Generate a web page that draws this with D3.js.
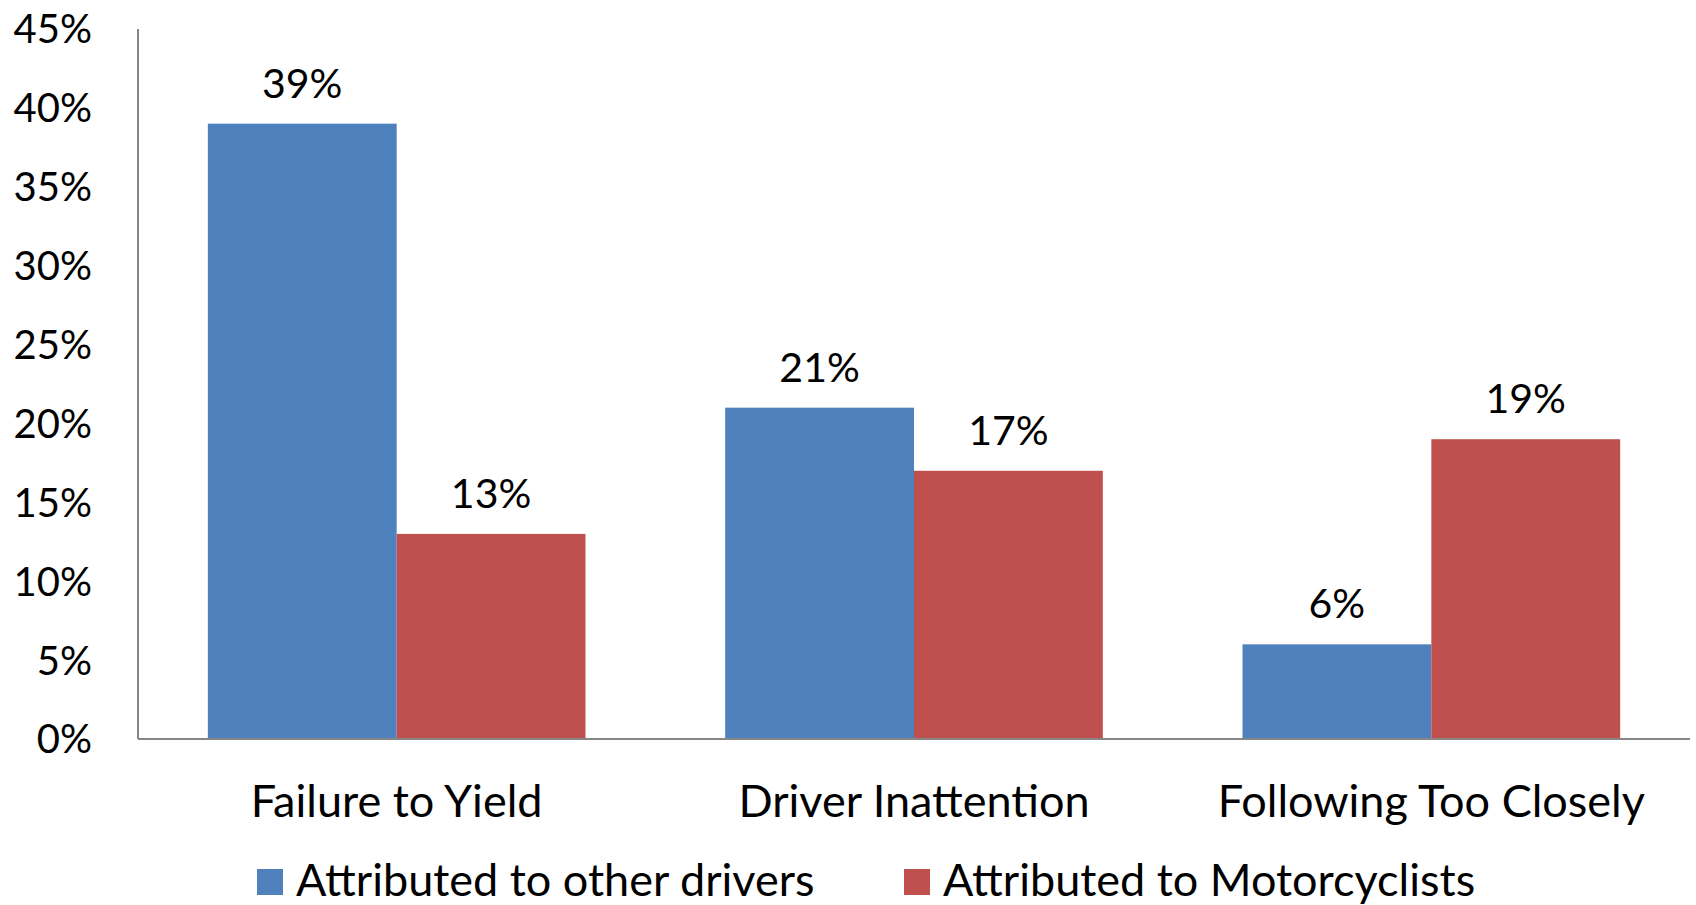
<!DOCTYPE html>
<html>
<head>
<meta charset="utf-8">
<script src="https://cdn.jsdelivr.net/npm/d3@7"></script>
<style>
  body { margin: 0; background: #fff; }
  text { font-family: Lato, "Open Sans", sans-serif; fill: #000; }
</style>
</head>
<body>
<div id="chart"></div>
<script>
var categories = ["Failure to Yield", "Driver Inattention", "Following Too Closely"];
var seriesNames = ["Attributed to other drivers", "Attributed to Motorcyclists"];
var otherDrivers = [39, 21, 6];
var motorcyclists = [13, 17, 19];
var yTicks = [0, 5, 10, 15, 20, 25, 30, 35, 40, 45];
var colors = ["#4F81BD", "#C0504D"];

var width = 1696, height = 905;
var margin = {top: 29, right: 6, bottom: 166, left: 138};

var svg = d3.select("#chart").append("svg")
    .attr("width", width)
    .attr("height", height);

var x = d3.scaleBand()
    .domain(categories)
    .range([margin.left, width - margin.right])
    .paddingInner(0.27)
    .paddingOuter(0.135);

var x1 = d3.scaleBand()
    .domain(seriesNames)
    .range([0, x.bandwidth()]);

var y = d3.scaleLinear()
    .domain([0, 45])
    .range([height - margin.bottom, margin.top]);

var rows = categories.map(function(c, i) {
  return {cat: c, vals: [otherDrivers[i], motorcyclists[i]]};
});

// y axis labels
svg.selectAll(".ytick")
    .data(yTicks)
    .enter()
    .append("text")
    .attr("x", 92)
    .attr("y", function(d) { return y(d); })
    .attr("dy", "0.36em")
    .attr("text-anchor", "end")
    .style("font-size", "40px")
    .text(function(d) { return d + "%"; });

// bars
var groups = svg.selectAll(".grp")
    .data(rows)
    .enter()
    .append("g")
    .attr("transform", function(d) { return "translate(" + x(d.cat) + ",0)"; });

groups.selectAll("rect")
    .data(function(d) { return d.vals.map(function(v, j) { return {s: seriesNames[j], v: v, j: j}; }); })
    .enter()
    .append("rect")
    .attr("x", function(d) { return x1(d.s); })
    .attr("y", function(d) { return y(d.v); })
    .attr("width", x1.bandwidth())
    .attr("height", function(d) { return y(0) - y(d.v); })
    .style("fill", function(d) { return colors[d.j]; });

groups.selectAll(".lbl")
    .data(function(d) { return d.vals.map(function(v, j) { return {s: seriesNames[j], v: v}; }); })
    .enter()
    .append("text")
    .attr("x", function(d) { return x1(d.s) + x1.bandwidth() / 2; })
    .attr("y", function(d) { return y(d.v) - 26; })
    .attr("text-anchor", "middle")
    .style("font-size", "41px")
    .text(function(d) { return d.v + "%"; });

// axis lines
svg.append("line")
    .attr("x1", margin.left).attr("x2", margin.left)
    .attr("y1", y(45)).attr("y2", y(0))
    .style("stroke", "#868686").style("stroke-width", 2);
svg.append("line")
    .attr("x1", margin.left).attr("x2", width - margin.right)
    .attr("y1", y(0)).attr("y2", y(0))
    .style("stroke", "#868686").style("stroke-width", 2);

// category labels
svg.selectAll(".cat")
    .data(categories)
    .enter()
    .append("text")
    .attr("x", function(d) { return x(d) + x.bandwidth() / 2; })
    .attr("y", 817)
    .attr("text-anchor", "middle")
    .style("font-size", "45px")
    .text(function(d) { return d; });

// legend
var legX = [257, 904];
var leg = svg.selectAll(".leg")
    .data(seriesNames)
    .enter()
    .append("g")
    .attr("transform", function(d, i) { return "translate(" + legX[i] + ",869)"; });
leg.append("rect")
    .attr("width", 26).attr("height", 26)
    .style("fill", function(d, i) { return colors[i]; });
leg.append("text")
    .attr("x", 39)
    .attr("y", 27)
    .style("font-size", "45px")
    .text(function(d) { return d; });
</script>
</body>
</html>
